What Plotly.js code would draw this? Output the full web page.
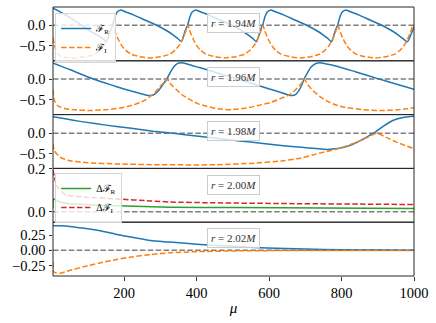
<!DOCTYPE html>
<html>
<head>
<meta charset="utf-8">
<script src="https://cdn.plot.ly/plotly-3.0.1.min.js"></script>
<style>body{margin:0;background:#fff}#myDiv{width:436px;height:323px}</style>
</head>
<body>
<div id="myDiv"></div>
<script>
// r = 1.94M
var mu194R=[4,20,50,83,110,130,142,151,157,161,165,169,175,181,191,202,226,259,290,319,336,348,358,364,368,372,376,382,388,398,409,433,466,497,526,543,555,565,571,575,579,583,589,595,605,616,640,673,704,733,750,762,772,778,782,786,790,796,802,812,823,847,880,911,940,957,969,982,988,994,1000]
var fR194=[0.41,0.34,0.19,0.0,-0.16,-0.26,-0.33,-0.40,
	-0.28,-0.15,-0.06,0.02,0.21,0.32,0.37,0.33,0.25,0.12,0.0,-0.14,-0.24,-0.32,-0.40,
	-0.28,-0.15,-0.06,0.02,0.21,0.32,0.37,0.33,0.25,0.12,0.0,-0.14,-0.24,-0.32,-0.40,
	-0.28,-0.15,-0.06,0.02,0.21,0.32,0.37,0.33,0.25,0.12,0.0,-0.14,-0.24,-0.32,-0.40,
	-0.28,-0.15,-0.06,0.02,0.21,0.32,0.37,0.33,0.25,0.12,0.0,-0.14,-0.24,-0.32,
	-0.40,-0.30,-0.17,-0.05]
var mu194I=[4,7,11,16,24,40,66,94,119,134,144,154,160,165,169,173,178,184,194,204,219,244,272,301,326,341,351,361,367,372,376,380,385,391,401,411,426,451,479,508,533,548,558,568,574,579,583,587,592,598,608,618,633,658,686,715,740,755,765,775,781,786,790,794,799,805,815,825,840,865,893,922,947,962,972,982,988,993,997,1000]
var fI194=[-0.30,-0.45,-0.58,-0.67,-0.74,-0.78,-0.79,-0.76,-0.70,-0.60,-0.50,-0.34,-0.22,-0.10,0.0,
	-0.10,-0.22,-0.34,-0.50,-0.60,-0.70,-0.76,-0.79,-0.76,-0.70,-0.60,-0.50,-0.34,-0.22,-0.10,0.0,
	-0.10,-0.22,-0.34,-0.50,-0.60,-0.70,-0.76,-0.79,-0.76,-0.70,-0.60,-0.50,-0.34,-0.22,-0.10,0.0,
	-0.10,-0.22,-0.34,-0.50,-0.60,-0.70,-0.76,-0.79,-0.76,-0.70,-0.60,-0.50,-0.34,-0.22,-0.10,0.0,
	-0.10,-0.22,-0.34,-0.50,-0.60,-0.70,-0.76,-0.79,-0.76,-0.70,-0.60,-0.50,-0.34,-0.22,-0.10,0.0,
	-0.07]

// r = 1.96M
var mu196R=[4,20,50,80,115,160,200,240,262,274,284,296,306,318,327,337,347,358,372,390,410,460,512,575,620,648,663,673,683,690,697,706,716,728,741,755,787,840,900,950,1000]
var fR196=[0.39,0.33,0.23,0.12,0.0,-0.13,-0.24,-0.34,-0.39,-0.40,-0.37,-0.27,-0.15,0.0,0.15,0.29,0.37,0.39,0.37,0.32,0.27,0.14,0.0,-0.17,-0.29,-0.37,-0.40,-0.38,-0.27,-0.15,0.0,0.15,0.29,0.37,0.39,0.37,0.31,0.17,0.01,-0.12,-0.25]
var mu196I=[4,6,10,16,23,40,70,110,150,190,220,244,260,272,286,299,310,318,326,335,345,360,382,405,428,460,500,539,570,603,630,658,672,685,692,697,703,712,722,740,759,785,814,860,906,950,980,1000]
var fI196=[-0.26,-0.45,-0.56,-0.64,-0.67,-0.72,-0.75,-0.76,-0.74,-0.70,-0.64,-0.57,-0.50,-0.42,-0.32,-0.18,-0.08,0.0,-0.09,-0.18,-0.26,-0.38,-0.50,-0.60,-0.66,-0.72,-0.74,-0.70,-0.64,-0.57,-0.48,-0.37,-0.27,-0.15,-0.07,0.0,-0.08,-0.19,-0.29,-0.42,-0.53,-0.63,-0.69,-0.74,-0.76,-0.75,-0.72,-0.69]

// r = 1.98M
var mu198R=[4,30,60,88,150,220,280,336,400,480,548,620,690,730,759,790,824,855,888,915,943,970,1000]
var fR198=[0.41,0.37,0.32,0.28,0.20,0.12,0.05,0.0,-0.07,-0.15,-0.22,-0.29,-0.35,-0.38,-0.40,-0.38,-0.30,-0.17,0.0,0.17,0.32,0.39,0.42]
var mu198I=[4,7,14,25,51,100,180,300,456,560,640,690,732,760,787,815,842,870,897,925,952,975,1000]
var fI198=[-0.26,-0.42,-0.51,-0.60,-0.68,-0.73,-0.76,-0.78,-0.78,-0.74,-0.68,-0.61,-0.51,-0.45,-0.39,-0.31,-0.22,-0.11,0.0,-0.11,-0.22,-0.30,-0.38]

// r = 2.00M (differences)
var mu200R=[4,5.5,10,23,50,88,180,327,500,750,1000]
var dR200=[0.017,0.06,0.056,0.046,0.038,0.034,0.028,0.022,0.020,0.018,0.016]
var mu200I=[4,8,14,19,33,42,88,180,272,327,450,686,850,1000]
var dI200=[0.195,0.16,0.123,0.11,0.085,0.077,0.069,0.060,0.051,0.046,0.042,0.038,0.036,0.034]

// r = 2.02M
var mu202R=[4,25,51,90,134,180,226,272,327,410,500,594,700,800,900,1000]
var fR202=[0.40,0.40,0.39,0.36,0.32,0.26,0.21,0.16,0.135,0.095,0.065,0.04,0.02,0.01,0.005,0.002]
var mu202I=[4,6,12,23,50,88,130,180,225,272,327,400,500,600,800,1000]
var fI202=[-0.19,-0.35,-0.37,-0.375,-0.33,-0.27,-0.21,-0.15,-0.105,-0.07,-0.04,-0.022,-0.01,-0.005,-0.002,-0.001]

var radii=['1.94','1.96','1.98','2.00','2.02']
var yRanges=[[-0.86,0.44],[-0.86,0.44],[-0.87,0.46],[-0.048,0.202],[-0.42,0.46]]
var yTicks=[[-0.5,0],[-0.5,0],[-0.5,0],[0,0.2],[-0.25,0,0.25]]
var yFormats=['.1f','.1f','.1f','.1f','.2f']
var xTicks=[200,400,600,800,1000]

var blue='#1f77b4', orange='#ff7f0e', green='#2ca02c', red='#d62728'
var dashed='5.5px,2.4px'
var serif='Liberation Serif, DejaVu Serif, serif'

function ax(k,letter){ return k==1 ? letter : letter+k }

function curve(x,y,col,dash,k,name,legend){
	return {
		x:x, y:y, type:'scatter', mode:'lines',
		xaxis:ax(k,'x'), yaxis:ax(k,'y'),
		name:name||'', showlegend:!!name, legend:legend||'legend',
		line:{color:col, width:1.5, dash:dash||'solid', shape:'spline', smoothing:0.6},
		hoverinfo:'skip'
	}
}

var data=[
	curve(mu194R,fR194,blue,'solid',1,'ℱ<sub>R</sub>','legend'),
	curve(mu194I,fI194,orange,dashed,1,'ℱ<sub>I</sub>','legend'),
	curve(mu196R,fR196,blue,'solid',2),
	curve(mu196I,fI196,orange,dashed,2),
	curve(mu198R,fR198,blue,'solid',3),
	curve(mu198I,fI198,orange,dashed,3),
	curve(mu200R,dR200,green,'solid',4,'Δℱ<sub>R</sub>','legend2'),
	curve(mu200I,dI200,red,dashed,4,'Δℱ<sub>I</sub>','legend2'),
	curve(mu202R,fR202,blue,'solid',5),
	curve(mu202I,fI202,orange,dashed,5)
]

var legendStyle={xanchor:'left', yanchor:'top', bgcolor:'rgba(255,255,255,0.8)',
	bordercolor:'#d5d5d5', borderwidth:1, font:{family:serif, size:10}, tracegroupgap:0, itemwidth:30}

var layout={
	width:436, height:323,
	margin:{l:53, r:22, t:7, b:47},
	paper_bgcolor:'#fff', plot_bgcolor:'#fff',
	font:{family:serif, size:14.5, color:'#000'},
	shapes:[], annotations:[],
	legend:Object.assign({x:0.006, y:0.978}, legendStyle),
	legend2:Object.assign({x:0.006, y:0.383}, legendStyle)
}

for (var k=1;k<=5;k++){
	var bottom=(k==5)
	var xa={
		anchor:ax(k,'y'), range:[4,1000], showgrid:false, zeroline:false, showline:false,
		tickvals:xTicks, showticklabels:bottom, ticks:bottom?'outside':'',
		ticklen:3.5, tickwidth:0.8, tickcolor:'#000', tickfont:{family:serif, size:14.5}
	}
	if (bottom) xa.title={text:'<i>μ</i>', font:{family:serif, size:15}, standoff:2}
	if (k!=1) xa.matches='x'
	layout[ax(k,'xaxis')]=xa
	layout[ax(k,'yaxis')]={
		anchor:ax(k,'x'), domain:[(5-k)*0.2,(6-k)*0.2], range:yRanges[k-1],
		showgrid:false, zeroline:false, showline:false,
		tickvals:yTicks[k-1], tickformat:yFormats[k-1], ticks:'outside',
		ticklen:3.5, tickwidth:0.8, tickcolor:'#000', tickfont:{family:serif, size:14.5}
	}
	// zero reference line
	layout.shapes.push({type:'line', layer:'below', xref:ax(k,'x')+' domain', yref:ax(k,'y'),
		x0:0, x1:1, y0:0, y1:0, line:{color:'#7f7f7f', width:1.5, dash:dashed}})
	// panel frame
	layout.shapes.push({type:'rect', layer:'above', xref:ax(k,'x')+' domain', yref:ax(k,'y')+' domain',
		x0:0, x1:1, y0:0, y1:1, line:{color:'#262626', width:1}})
	layout.annotations.push({xref:ax(k,'x')+' domain', yref:ax(k,'y')+' domain', x:0.5, y:0.7,
		xanchor:'center', yanchor:'middle', showarrow:false,
		text:'<i>r</i> = '+radii[k-1]+'<i>M</i>', font:{family:serif, size:11, color:'#333'},
		bgcolor:'rgba(255,255,255,0.8)', bordercolor:'#cccccc', borderwidth:1, borderpad:3})
}

Plotly.newPlot('myDiv',data,layout,{staticPlot:true})
</script>
</body>
</html>
